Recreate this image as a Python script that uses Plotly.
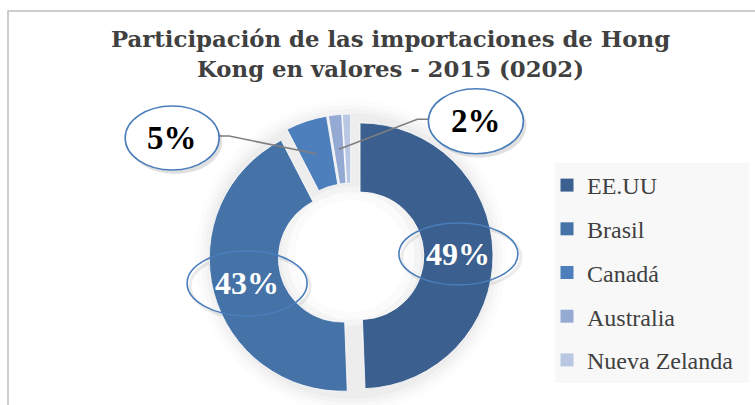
import math
import plotly.graph_objects as go

# ---- data ----
labels = ["EE.UU", "Brasil", "Canadá", "Australia", "Nueva Zelanda"]
values = [49.4, 43.0, 5.0, 1.6, 1.0]
title_lines = ["Participación de las importaciones de Hong", "Kong en valores - 2015 (0202)"]

# ---- style ----
colors = ["#3b5f8e", "#4572a7", "#4c7fbc", "#94aad2", "#b9c7e3"]
W, H = 755, 405
DOM_X = [0.2768, 0.653]
DOM_Y = [0.0173, 0.7185]
PULL = 0.068
HOLE = 0.48
SERIF = "Liberation Serif"
TITLE_FONT = "DejaVu Serif"
callouts = [
    {"kind": "in", "w": 119, "h": 62},
    {"kind": "in", "w": 120, "h": 65},
    {"kind": "out", "w": 94, "h": 64, "dx": -145, "dy": -16, "elbow": 10},
    {"kind": "out", "w": 95, "h": 65, "dx": 137, "dy": -28, "elbow": 11},
    None,
]

def px2paper(x, y):
    return x / W, 1 - y / H

total = sum(values)
cx = W * (DOM_X[0] + DOM_X[1]) / 2
cy = H * (1 - (DOM_Y[0] + DOM_Y[1]) / 2)
r = min(W * (DOM_X[1] - DOM_X[0]), H * (DOM_Y[1] - DOM_Y[0])) / 2 / (1 + PULL)
ri = r * HOLE
rmid = (r + ri) / 2

fig = go.Figure()
fig.add_trace(go.Pie(
    labels=labels, values=values, sort=False, direction="clockwise", rotation=0,
    hole=HOLE, pull=[PULL] * len(values),
    marker=dict(colors=colors, line=dict(color="#ffffff", width=0.8)),
    textinfo="none", showlegend=False,
    domain=dict(x=DOM_X, y=DOM_Y),
))

# legend via dummy traces (one group each so spacing can be set)
for lab, col in zip(labels, colors):
    fig.add_trace(go.Scatter(
        x=[None], y=[None], mode="markers", name=lab, legendgroup=lab,
        marker=dict(symbol="square", size=13, color=col),
    ))

shapes = []
annotations = []

# chart border (only left and top visible)
x0, y0 = px2paper(8, 11)
shapes.append(dict(type="rect", xref="paper", yref="paper", x0=x0, x1=1.2, y0=-0.2, y1=y0,
                   line=dict(color="#bfbfbf", width=1.5), fillcolor="rgba(0,0,0,0)", layer="below"))
# legend box
lx0, ly0 = px2paper(555, 163)
lx1, ly1 = px2paper(749, 383)
shapes.append(dict(type="rect", xref="paper", yref="paper", x0=lx0, x1=lx1, y0=ly1, y1=ly0,
                   line=dict(width=0), fillcolor="#f8f8f8", layer="below"))

# soft glow around donut
ro = r * (1 + PULL)
for extra, alpha in [(14, 0.012), (9, 0.016), (5, 0.02), (1, 0.025)]:
    a0, b0 = px2paper(cx - ro - extra, cy - ro - extra)
    a1, b1 = px2paper(cx + ro + extra, cy + ro + extra)
    shapes.append(dict(type="circle", xref="paper", yref="paper", x0=a0, x1=a1, y0=b1, y1=b0,
                       line=dict(width=0), fillcolor=f"rgba(0,0,0,{alpha})", layer="below"))
for rad, col in [(ri + 6, "rgba(255,255,255,0.4)"), (ri, "rgba(255,255,255,0.6)"), (ri - 8, "#ffffff")]:
    a0, b0 = px2paper(cx - rad, cy - rad)
    a1, b1 = px2paper(cx + rad, cy + rad)
    shapes.append(dict(type="circle", xref="paper", yref="paper", x0=a0, x1=a1, y0=b1, y1=b0,
                       line=dict(width=0), fillcolor=col, layer="below"))

def ellipse(xc, yc, w, h, fill, layer, line_col="#4a7ebb", lw=1.6):
    a0, b0 = px2paper(xc - w / 2, yc - h / 2)
    a1, b1 = px2paper(xc + w / 2, yc + h / 2)
    return dict(type="circle", xref="paper", yref="paper", x0=a0, x1=a1, y0=b1, y1=b0,
                line=dict(color=line_col, width=lw), fillcolor=fill, layer=layer)

cum = 0.0
for v, co in zip(values, callouts):
    theta = 2 * math.pi * (cum + v / 2) / total
    cum += v
    if co is None:
        continue
    rr = rmid + PULL * r
    ax = cx + rr * math.sin(theta)
    ay = cy - rr * math.cos(theta)
    txt = f"{round(v / total * 100)}%"
    if co["kind"] == "in":
        ex, ey = ax, ay
        shapes.append(ellipse(ex + 3, ey + 3, co["w"], co["h"], "rgba(0,0,0,0)", "below",
                              line_col="rgba(0,0,0,0.08)", lw=3))
        shapes.append(ellipse(ex, ey, co["w"], co["h"], "rgba(0,0,0,0)", "above"))
        tcol = "#ffffff"
        fs = 32
    else:
        ex, ey = ax + co["dx"], ay + co["dy"]
        side = 1 if co["dx"] > 0 else -1
        edge_x = ex - side * co["w"] / 2
        elbow_x = edge_x - side * co["elbow"]
        ly = ey - 2
        p = [px2paper(ax, ay), px2paper(elbow_x, ly), px2paper(edge_x + side * 2, ly)]
        shapes.append(dict(type="path", xref="paper", yref="paper",
                           path=f"M {p[0][0]} {p[0][1]} L {p[1][0]} {p[1][1]} L {p[2][0]} {p[2][1]}",
                           line=dict(color="#7f7f7f", width=1.6), layer="above"))
        shapes.append(ellipse(ex + 3, ey + 4, co["w"], co["h"], "rgba(0,0,0,0.12)", "above",
                              line_col="rgba(0,0,0,0)", lw=0))
        shapes.append(ellipse(ex, ey, co["w"], co["h"], "#ffffff", "above"))
        tcol = "#000000"
        fs = 33
    tx, ty = px2paper(ex, ey)
    annotations.append(dict(x=tx, y=ty, xref="paper", yref="paper", text=f"<b>{txt}</b>",
                            showarrow=False, xanchor="center", yanchor="middle",
                            font=dict(family=SERIF, size=fs, color=tcol)))

tx, ty = px2paper(390, 54)
annotations.append(dict(x=tx, y=ty, xref="paper", yref="paper",
                        text="<b>" + "<br>".join(title_lines) + "</b>",
                        showarrow=False, xanchor="center", yanchor="middle",
                        font=dict(family=TITLE_FONT, size=22.8, color="#404040")))

legx, legy = px2paper(547, 163)
fig.update_layout(
    width=W, height=H,
    margin=dict(l=0, r=0, t=0, b=0, autoexpand=False),
    paper_bgcolor="#ffffff", plot_bgcolor="#ffffff",
    xaxis=dict(visible=False), yaxis=dict(visible=False),
    shapes=shapes, annotations=annotations,
    legend=dict(x=legx, y=legy, xanchor="left", yanchor="top",
                bgcolor="rgba(0,0,0,0)", font=dict(family=SERIF, size=24, color="#404040"),
                tracegroupgap=9.5, itemwidth=30),
    showlegend=True,
)
fig.write_html("out.html", config={"displayModeBar": False},
               post_script="document.body.style.margin='0';document.body.style.overflow='hidden';")
